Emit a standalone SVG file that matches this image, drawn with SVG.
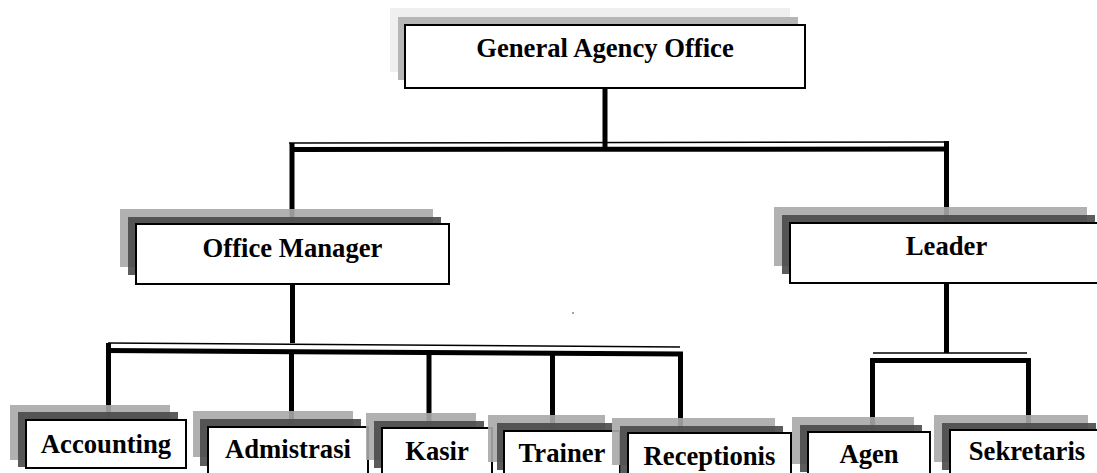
<svg xmlns="http://www.w3.org/2000/svg" width="1097" height="473" viewBox="0 0 1097 473">
<style>
.box{fill:#fff;stroke:#000;stroke-width:2}
.sl{fill:#a8a8a8;opacity:.9}
.sd{fill:#4a4a4a;opacity:.9}
.tl{fill:#efefef}
.tm{fill:#b6b6b6}
.t{font-family:"Liberation Serif","Times New Roman",serif;font-weight:bold;font-size:26.67px;text-anchor:middle;fill:#000}
.c{stroke:#000;fill:none;stroke-linecap:butt}
.w{stroke-width:5}
.n{stroke-width:1.5}
</style>
<rect width="1097" height="473" fill="#fff"/>
<g id="connectors">
<line class="c w" x1="605" y1="88" x2="605" y2="147"/>
<line class="c n" x1="289" y1="143" x2="946" y2="142"/>
<line class="c w" x1="290" y1="149.5" x2="949" y2="149"/>
<line class="c w" x1="292" y1="143" x2="292" y2="224"/>
<line class="c w" x1="946.5" y1="141" x2="946.5" y2="223"/>
<line class="c w" x1="292.5" y1="284" x2="292.5" y2="343"/>
<line class="c n" x1="108" y1="343" x2="680" y2="347"/>
<line class="c w" x1="106" y1="350.5" x2="683" y2="354"/>
<line class="c w" x1="108.5" y1="343" x2="108.5" y2="420"/>
<line class="c w" x1="291.5" y1="353" x2="291.5" y2="427"/>
<line class="c w" x1="429" y1="352" x2="429" y2="428"/>
<line class="c w" x1="552.5" y1="353" x2="552.5" y2="431"/>
<line class="c w" x1="680.5" y1="352" x2="680.5" y2="433"/>
<line class="c w" x1="946.5" y1="283" x2="946.5" y2="353"/>
<line class="c n" x1="873" y1="353" x2="1027" y2="353"/>
<line class="c w" x1="870" y1="360.5" x2="1031" y2="360.5"/>
<line class="c w" x1="872.5" y1="358" x2="872.5" y2="432"/>
<line class="c w" x1="1028.5" y1="358" x2="1028.5" y2="430"/>
</g>
<circle cx="573" cy="313" r="0.9" fill="#777"/>
<g id="general-agency-office">
<rect class="tl" x="390" y="8" width="400" height="64"/>
<rect class="tm" x="398" y="17" width="400" height="63"/>
<rect class="box" x="405" y="25" width="400" height="63"/>
<text class="t" x="605" y="57">General Agency Office</text>
</g>
<g id="office-manager">
<rect class="sl" x="120" y="209" width="313" height="58"/>
<rect class="sd" x="128" y="217" width="313" height="58"/>
<rect class="box" x="136" y="224" width="313" height="60"/>
<text class="t" x="292.5" y="257">Office Manager</text>
</g>
<g id="leader">
<rect class="sl" x="774" y="207" width="313" height="59"/>
<rect class="sd" x="782" y="215" width="313" height="59"/>
<rect class="box" x="790" y="223" width="313" height="60"/>
<text class="t" x="946.5" y="255">Leader</text>
</g>
<g id="accounting">
<rect class="sl" x="10" y="405" width="160" height="55"/>
<rect class="sd" x="18" y="412" width="160" height="55"/>
<rect class="box" x="26" y="420" width="160" height="48"/>
<text class="t" x="106" y="453">Accounting</text>
</g>
<g id="admistrasi">
<rect class="sl" x="193" y="411" width="160" height="46"/>
<rect class="sd" x="200" y="419" width="161" height="47"/>
<rect class="box" x="208" y="427" width="160" height="56"/>
<text class="t" x="288" y="458">Admistrasi</text>
</g>
<g id="kasir">
<rect class="sl" x="366" y="413" width="110" height="47"/>
<rect class="sd" x="374" y="421" width="110" height="47"/>
<rect class="box" x="382" y="428" width="110" height="56"/>
<text class="t" x="437" y="460">Kasir</text>
</g>
<g id="trainer">
<rect class="sl" x="488" y="415" width="117" height="47"/>
<rect class="sd" x="497" y="423" width="115" height="47"/>
<rect class="box" x="504" y="431" width="116" height="56"/>
<text class="t" x="562" y="462">Trainer</text>
</g>
<g id="receptionis">
<rect class="sl" x="612" y="418" width="163" height="47"/>
<rect class="sd" x="620" y="426" width="163" height="47"/>
<rect class="box" x="628" y="433" width="163" height="56"/>
<text class="t" x="709.5" y="465">Receptionis</text>
</g>
<g id="agen">
<rect class="sl" x="792" y="417" width="122" height="47"/>
<rect class="sd" x="800" y="425" width="122" height="47"/>
<rect class="box" x="808" y="432" width="122" height="56"/>
<text class="t" x="869" y="463">Agen</text>
</g>
<g id="sekretaris">
<rect class="sl" x="934" y="415" width="154" height="47"/>
<rect class="sd" x="942" y="423" width="154" height="47"/>
<rect class="box" x="950" y="430" width="154" height="56"/>
<text class="t" x="1027" y="460">Sekretaris</text>
</g>
</svg>
